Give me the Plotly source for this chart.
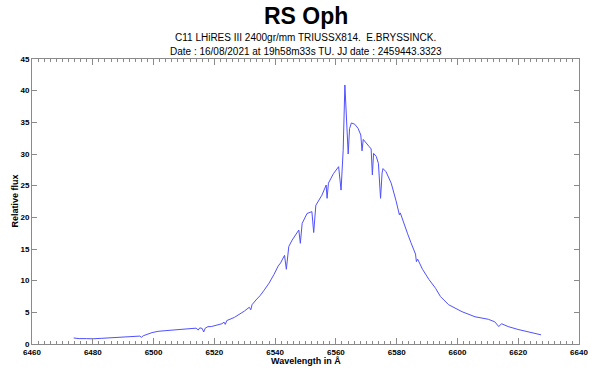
import plotly.graph_objects as go

# Spectrum (wavelength in Angstrom, relative flux)
wavelength = [
    6473.7, 6475.5, 6478.0, 6480.0, 6483.0, 6485.4, 6488.0, 6490.8, 6493.5, 6495.5,
    6496.0, 6496.6, 6499.5, 6501.5, 6503.8, 6506.0, 6508.2, 6510.5, 6512.5, 6514.0,
    6514.7, 6515.2, 6516.0, 6516.5, 6517.0, 6517.9, 6519.0, 6520.1, 6522.5, 6523.2,
    6523.6, 6524.1, 6526.6, 6529.9, 6531.5, 6532.0, 6532.4, 6533.7, 6535.0, 6536.4,
    6538.0, 6539.65, 6541.0, 6541.8, 6542.5, 6543.1, 6543.7, 6544.2, 6544.5, 6545.6,
    6547.2, 6547.8, 6548.3, 6548.9, 6550.5, 6552.1, 6552.7, 6553.4, 6555.4, 6556.8,
    6557.1, 6557.55, 6559.2, 6560.25, 6560.9, 6561.7, 6562.4, 6562.96, 6563.6, 6564.05,
    6564.5, 6565.1, 6566.2, 6567.3, 6568.2, 6568.6, 6569.0, 6569.5, 6570.0, 6570.9,
    6571.6, 6572.0, 6572.4, 6573.3, 6574.0, 6574.7, 6575.2, 6575.5, 6576.5, 6578.2,
    6579.8, 6580.7, 6580.9, 6581.2, 6582.5, 6583.6, 6584.7, 6585.75, 6586.2, 6586.5,
    6586.9, 6588.5, 6590.6, 6592.8, 6594.4, 6597.1, 6599.3, 6601.5, 6605.8, 6610.2,
    6612.3, 6613.6, 6614.5, 6616.7, 6619.9, 6623.2, 6627.5,
]
flux = [
    0.95, 0.85, 0.85, 0.82, 0.90, 0.95, 1.00, 1.05, 1.15, 1.25,
    1.05, 1.30, 1.80, 2.00, 2.10, 2.20, 2.30, 2.45, 2.55, 2.50,
    2.20, 2.55, 2.45, 1.90, 2.50, 2.74, 2.75, 2.90, 3.20, 3.45,
    3.10, 3.70, 4.20, 5.20, 5.80, 5.40, 6.20, 6.95, 7.60, 8.50,
    9.60, 11.0, 12.3, 12.8, 13.5, 14.0, 11.8, 14.3, 15.4, 16.4,
    17.7, 18.0, 15.9, 19.05, 20.6, 20.9, 17.6, 21.9, 23.5, 25.1,
    23.0, 25.4, 26.9, 27.7, 28.0, 24.3, 30.6, 40.9, 33.0, 30.0,
    34.0, 34.9, 34.7, 34.05, 33.0, 30.5, 32.3, 32.05, 31.7, 31.2,
    30.8, 26.7, 30.1, 29.6, 28.5, 23.0, 27.0, 27.7, 27.2, 25.4,
    22.6, 21.0, 20.4, 20.7, 18.8, 17.4, 16.0, 14.6, 14.2, 13.0,
    13.4, 11.8, 10.2, 8.8, 7.5, 6.2, 5.6, 5.1, 4.3, 3.9,
    3.5, 2.75, 3.2, 2.75, 2.3, 1.95, 1.45,
]

title_text = "RS Oph"
subtitle_1 = "C11 LHiRES III 2400gr/mm TRIUSSX814.  E.BRYSSINCK."
subtitle_2 = "Date : 16/08/2021 at 19h58m33s TU. JJ date : 2459443.3323"
x_title = "Wavelength in Å"
y_title = "Relative flux"

FONT = "Liberation Sans, Arial, Helvetica, sans-serif"
AXIS_COLOR = "#8a8a8a"

fig = go.Figure()
fig.add_trace(go.Scatter(
    x=wavelength, y=flux, mode="lines",
    line=dict(color="#5050ff", width=1),
    hoverinfo="x+y", showlegend=False,
))

fig.update_layout(
    width=600, height=371,
    margin=dict(l=32, r=15, t=59, b=27),
    paper_bgcolor="white", plot_bgcolor="white",
    font=dict(family=FONT, color="black"),
    showlegend=False,
    xaxis=dict(
        range=[6460, 6640], dtick=20, tick0=6460,
        showgrid=False, zeroline=False,
        showline=True, linecolor=AXIS_COLOR, linewidth=1, mirror="ticks",
        ticks="inside", ticklen=6, tickcolor=AXIS_COLOR, tickwidth=1,
        minor=dict(dtick=2, ticks="inside", ticklen=3, tickcolor=AXIS_COLOR, showgrid=False),
        tickfont=dict(size=8, weight="bold", color="black"),
    ),
    yaxis=dict(
        range=[0, 45], dtick=5, tick0=0,
        showgrid=False, zeroline=False,
        showline=True, linecolor=AXIS_COLOR, linewidth=1, mirror="ticks",
        ticks="inside", ticklen=5, tickcolor=AXIS_COLOR, tickwidth=1,
        tickfont=dict(size=8, weight="bold", color="black"),
    ),
    annotations=[
        dict(text="<b>" + title_text + "</b>", xref="paper", yref="paper",
             x=0.5, y=1, yshift=43, xanchor="center", yanchor="middle",
             showarrow=False, font=dict(size=23, family=FONT, color="black")),
        dict(text=subtitle_1, xref="paper", yref="paper",
             x=0.5, y=1, yshift=22, xanchor="center", yanchor="middle",
             showarrow=False, font=dict(size=10, family=FONT, color="black")),
        dict(text=subtitle_2, xref="paper", yref="paper",
             x=0.5, y=1, yshift=8, xanchor="center", yanchor="middle",
             showarrow=False, font=dict(size=10, family=FONT, color="black")),
        dict(text="<b>" + x_title + "</b>", xref="paper", yref="paper",
             x=0.5, y=0, yshift=-17, xanchor="center", yanchor="middle",
             showarrow=False, font=dict(size=9, family=FONT, color="black")),
        dict(text="<b>" + y_title + "</b>", xref="paper", yref="paper",
             x=0, y=0.5, xshift=-18, xanchor="center", yanchor="middle", textangle=-90,
             showarrow=False, font=dict(size=9, family=FONT, color="black")),
    ],
)

# remove the browser's default 8px page margin so the figure fills the window
fig.write_html(
    "out.html",
    config={"displayModeBar": False},
    post_script="document.body.style.margin='0';",
)
